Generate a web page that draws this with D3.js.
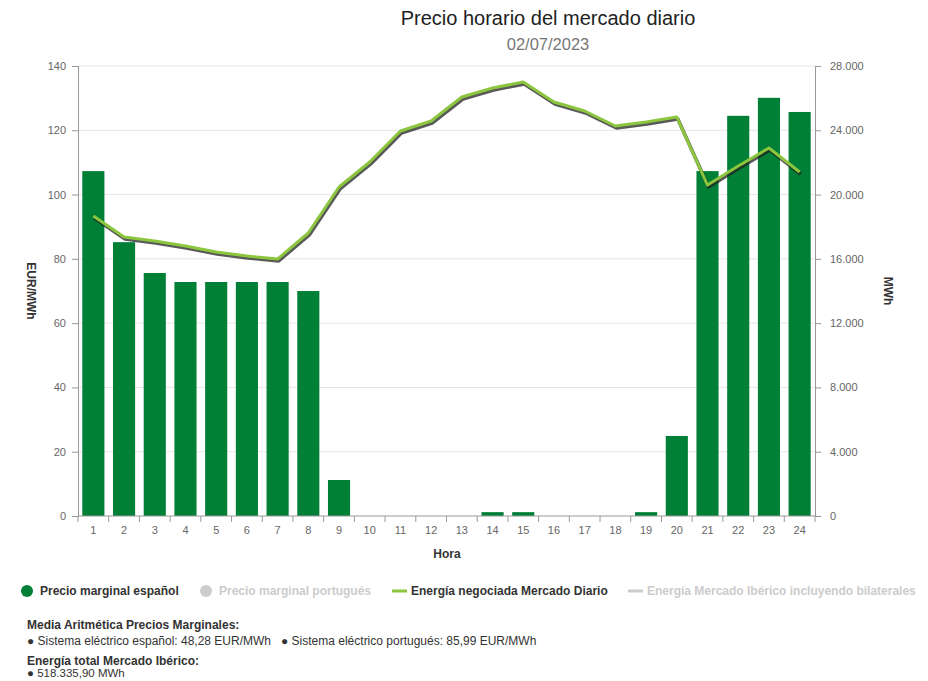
<!DOCTYPE html>
<html>
<head>
<meta charset="utf-8">
<script src="https://cdn.jsdelivr.net/npm/d3@7.9.0/dist/d3.min.js"></script>
<style>
  body { margin: 0; background: #fff; font-family: 'Liberation Sans', Arial, sans-serif; }
  #chart { width: 928px; height: 681px; overflow: hidden; }
</style>
</head>
<body>
<div id="chart"></div>
<script>
const hours = d3.range(1, 25);

// Precio marginal español (EUR/MWh)
const priceES = [107.3, 85.2, 75.6, 72.8, 72.8, 72.8, 72.8, 70.0, 11.2, 0, 0, 0,
  0, 1.2, 1.2, 0, 0, 0, 1.2, 24.9, 107.3, 124.5, 130.1, 125.7];

// Energía negociada Mercado Diario (MWh)
const energy = [18667, 17360, 17111, 16800, 16427, 16178, 15991, 17609, 20471, 22027, 23955, 24577,
  26071, 26631, 27004, 25760, 25200, 24266, 24515, 24826, 20595, 21778, 22897, 21404];

const leftTicks = [0, 20, 40, 60, 80, 100, 120, 140];
const rightTicks = [0, 4000, 8000, 12000, 16000, 20000, 24000, 28000];

const legendItems = [
  { label: 'Precio marginal español', type: 'dot', color: '#007f36', text: '#333' },
  { label: 'Precio marginal portugués', type: 'dot', color: '#cccccc', text: '#cccccc' },
  { label: 'Energía negociada Mercado Diario', type: 'line', color: '#8cc63f', text: '#333' },
  { label: 'Energía Mercado Ibérico incluyendo bilaterales', type: 'line', color: '#cccccc', text: '#cccccc' }
];

const width = 928, height = 681;
const margin = { top: 66, right: 113, bottom: 165, left: 78 };
const innerW = width - margin.left - margin.right;
const innerH = height - margin.top - margin.bottom;

const svg = d3.select('#chart').append('svg')
  .attr('width', width).attr('height', height);

// Title
svg.append('text').attr('x', 548).attr('y', 25).attr('text-anchor', 'middle')
  .style('font-size', '20px').attr('fill', '#222')
  .text('Precio horario del mercado diario');
svg.append('text').attr('x', 548).attr('y', 50).attr('text-anchor', 'middle')
  .style('font-size', '16.5px').attr('fill', '#777')
  .text('02/07/2023');

const g = svg.append('g').attr('transform', `translate(${margin.left},${margin.top})`);

const x = d3.scaleBand().domain(hours).range([0, innerW]).paddingInner(0.28).paddingOuter(0.14);
const xTicks = d3.scaleBand().domain(hours).range([0, innerW]);
const yL = d3.scaleLinear().domain([0, 140]).range([innerH, 0]);
const yR = d3.scaleLinear().domain([0, 28000]).range([innerH, 0]);

// Gridlines
g.append('g').selectAll('line').data(leftTicks.slice(1)).join('line')
  .attr('x1', 0).attr('x2', innerW)
  .attr('y1', d => yL(d)).attr('y2', d => yL(d))
  .attr('stroke', '#e6e6e6');

// Bars
g.append('g').selectAll('rect').data(priceES).join('rect')
  .attr('x', (d, i) => x(hours[i]))
  .attr('y', d => yL(d))
  .attr('width', x.bandwidth())
  .attr('height', d => innerH - yL(d))
  .attr('fill', '#007f36');

// Line with shadow
const line = d3.line()
  .x((d, i) => xTicks(hours[i]) + xTicks.bandwidth() / 2)
  .y(d => yR(d));

g.append('path').datum(energy)
  .attr('d', line).attr('fill', 'none')
  .attr('stroke', '#222').attr('stroke-opacity', 0.75).attr('stroke-width', 3.5)
  .attr('stroke-linejoin', 'round')
  .attr('transform', 'translate(1,2)');
g.append('path').datum(energy)
  .attr('d', line).attr('fill', 'none')
  .attr('stroke', '#8cc63f').attr('stroke-width', 3)
  .attr('stroke-linejoin', 'round');

const axisColor = '#999';
const labelColor = '#666';

// X axis
const xAxis = g.append('g').attr('transform', `translate(0,${innerH})`);
xAxis.append('line').attr('x1', 0).attr('x2', innerW).attr('stroke', axisColor);
xAxis.selectAll('line.tk').data(d3.range(0, 25)).join('line').attr('class', 'tk')
  .attr('x1', d => d * xTicks.step()).attr('x2', d => d * xTicks.step())
  .attr('y1', 0).attr('y2', 6).attr('stroke', axisColor);
xAxis.selectAll('text').data(hours).join('text')
  .attr('x', d => xTicks(d) + xTicks.bandwidth() / 2)
  .attr('y', 18).attr('text-anchor', 'middle')
  .style('font-size', '11px').attr('fill', labelColor).text(d => d);

// Left axis
const yAxisL = d3.axisLeft(yL).tickValues(leftTicks).tickSize(6).tickPadding(6);
const gl = g.append('g').call(yAxisL);
gl.selectAll('text').style('font-size', '11px').attr('fill', labelColor)
  .style('font-family', "'Liberation Sans', Arial, sans-serif");

// Right axis
const fmtR = d => d3.format(',')(d).replace(/,/g, '.');
const yAxisR = d3.axisRight(yR).tickValues(rightTicks).tickSize(6).tickPadding(9)
  .tickFormat(fmtR);
const gr = g.append('g').attr('transform', `translate(${innerW},0)`).call(yAxisR);
gr.selectAll('text').style('font-size', '11px').attr('fill', labelColor)
  .style('font-family', "'Liberation Sans', Arial, sans-serif");

g.selectAll('.domain, .tick line').attr('stroke', axisColor);

// Axis titles
svg.append('text').attr('x', 447).attr('y', 558).attr('text-anchor', 'middle')
  .style('font-size', '12px').style('font-weight', 'bold').attr('fill', '#333').text('Hora');
svg.append('text').attr('transform', 'translate(27,291) rotate(90)').attr('text-anchor', 'middle')
  .style('font-size', '12px').style('font-weight', 'bold').attr('fill', '#333').text('EUR/MWh');
svg.append('text').attr('transform', 'translate(884,291) rotate(90)').attr('text-anchor', 'middle')
  .style('font-size', '12px').style('font-weight', 'bold').attr('fill', '#333').text('MWh');

// Legend
const legendX = [20, 199, 391, 627];
const legend = svg.append('g').attr('transform', 'translate(0,591)');
legendItems.forEach((it, i) => {
  const lg = legend.append('g').attr('transform', `translate(${legendX[i]},0)`);
  if (it.type === 'dot') {
    lg.append('circle').attr('cx', 7).attr('cy', 0).attr('r', 6).attr('fill', it.color);
  } else {
    lg.append('line').attr('x1', 1).attr('x2', 16).attr('y1', 0).attr('y2', 0)
      .attr('stroke', it.color).attr('stroke-width', 3);
  }
  lg.append('text').attr('x', 20).attr('y', 4)
    .style('font-size', '12px').style('font-weight', 'bold').attr('fill', it.text).text(it.label);
});

// Summary text
const info = svg.append('g').style('font-size', '12px').attr('fill', '#333');
info.append('text').attr('x', 27).attr('y', 629).style('font-weight', 'bold')
  .text('Media Aritmética Precios Marginales:');
info.append('text').attr('x', 27).attr('y', 645)
  .text('● Sistema eléctrico español: 48,28 EUR/MWh   ● Sistema eléctrico portugués: 85,99 EUR/MWh')
  .attr('xml:space', 'preserve').style('white-space', 'pre');
info.append('text').attr('x', 27).attr('y', 665).style('font-weight', 'bold')
  .text('Energía total Mercado Ibérico:');
info.append('text').attr('x', 27).attr('y', 677).style('font-size', '11.5px').text('● 518.335,90 MWh');
</script>
</body>
</html>
